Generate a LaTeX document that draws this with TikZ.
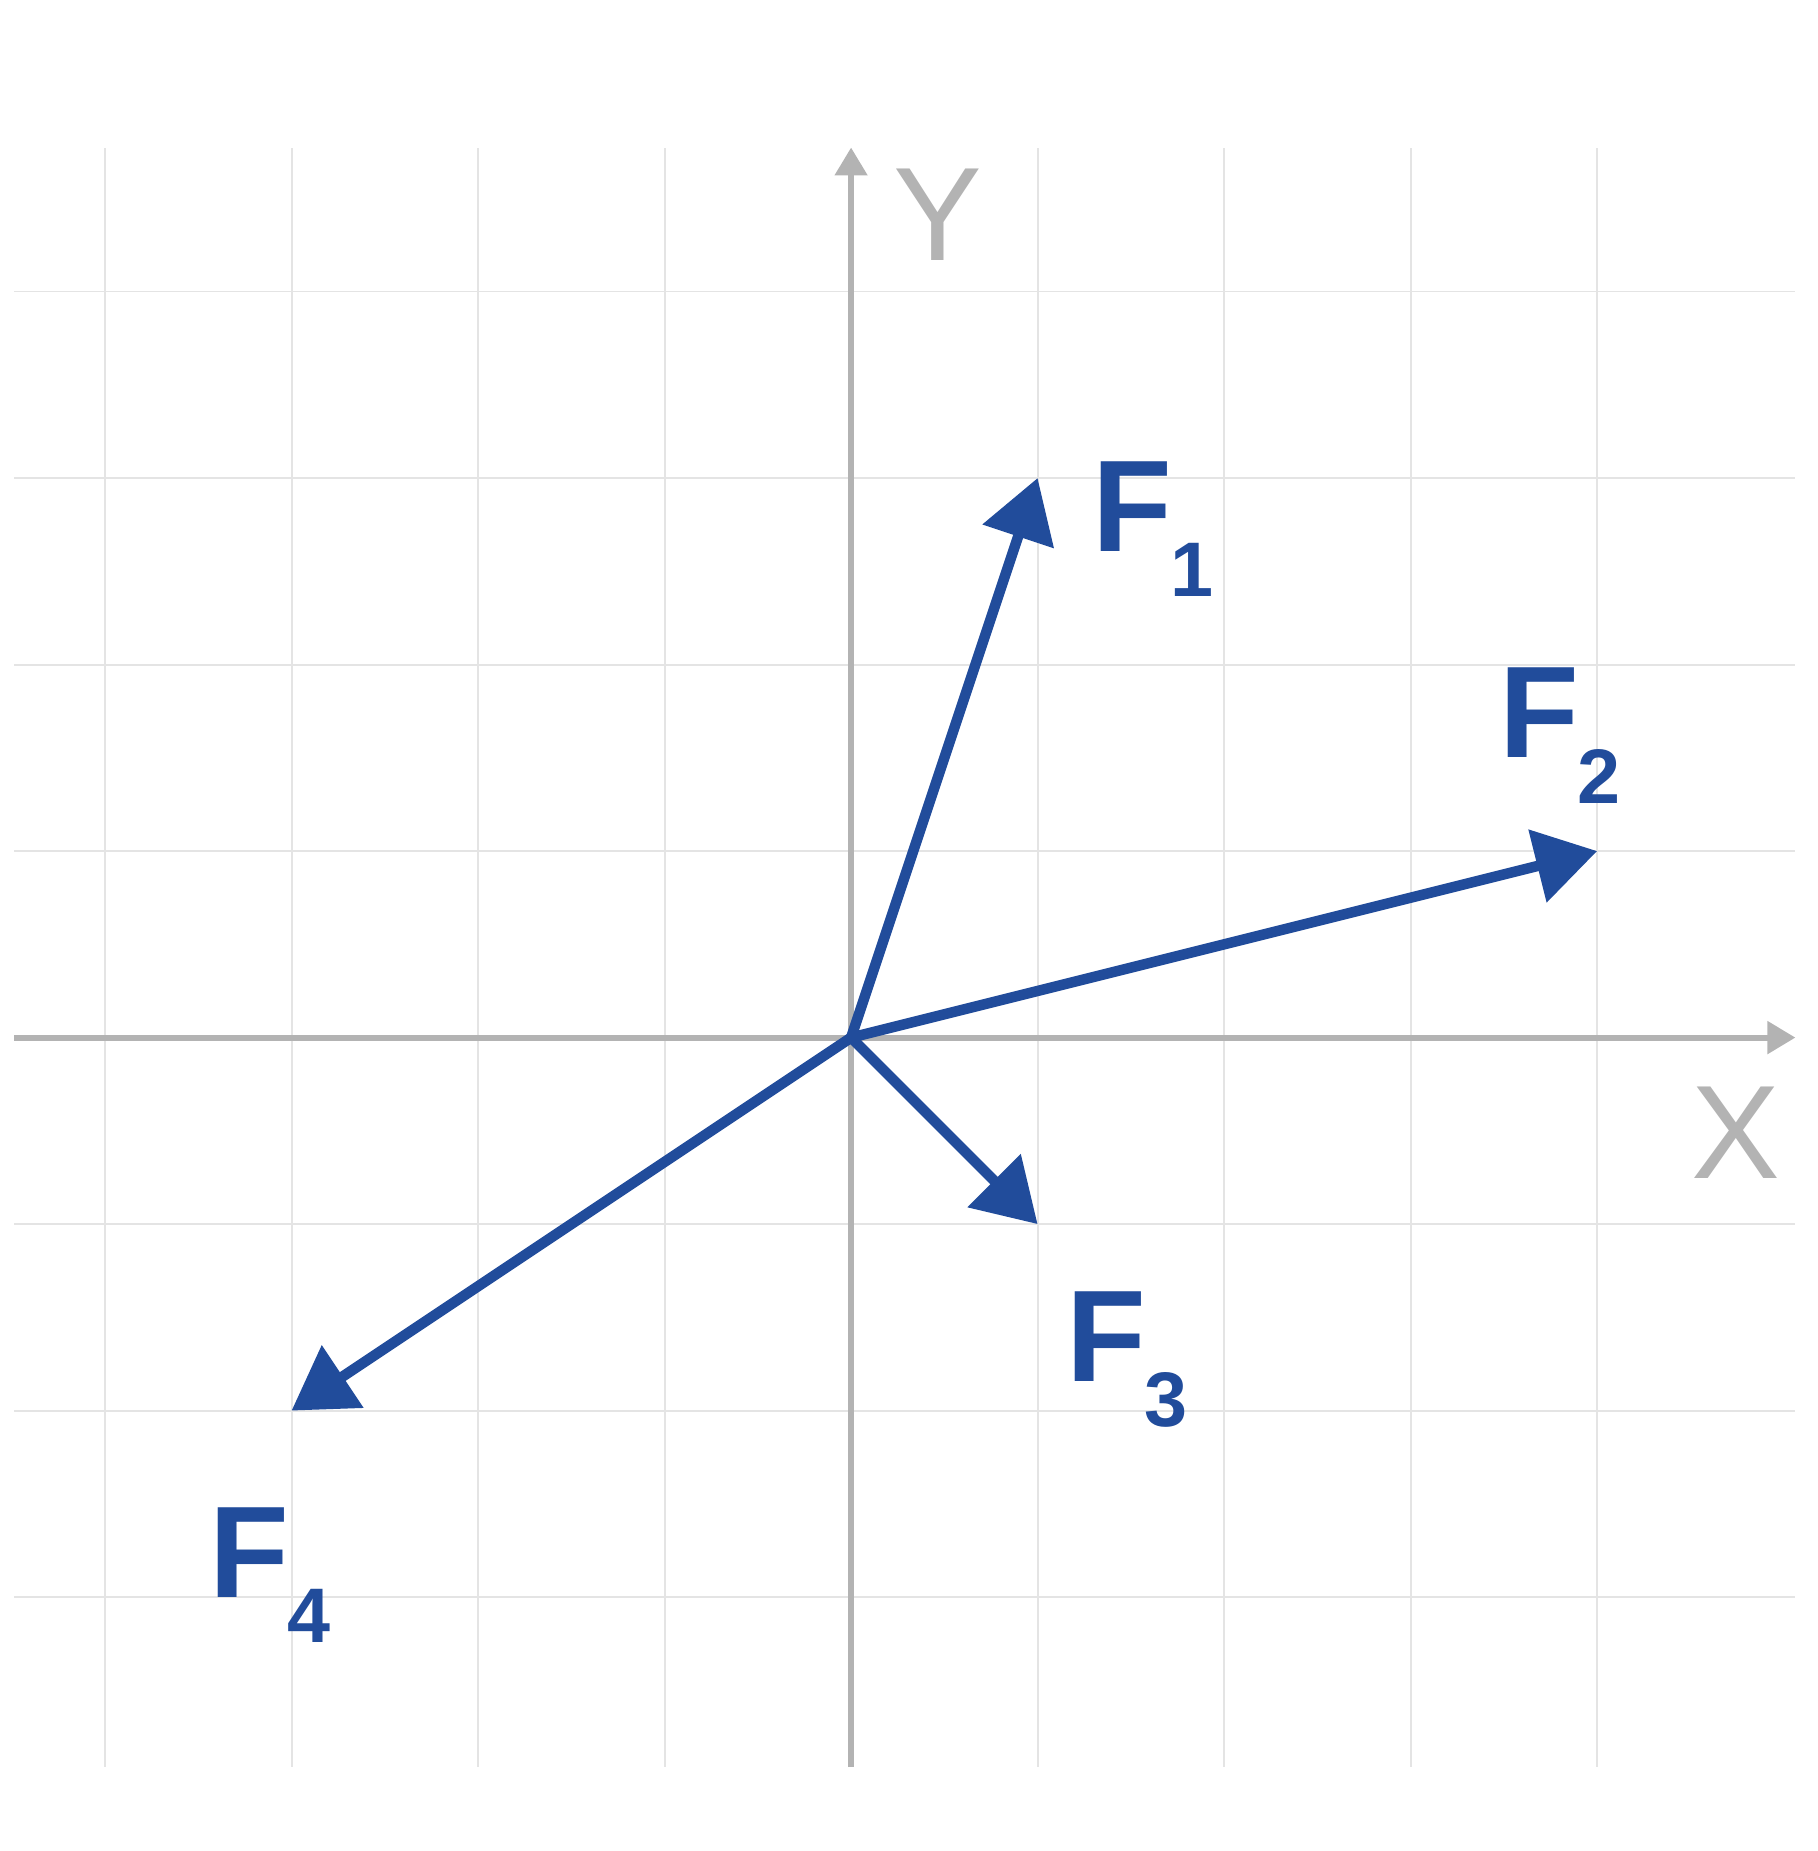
\documentclass[tikz,border=0pt]{standalone}
\usepackage{fontspec}
\setmainfont{Liberation Sans}
\usetikzlibrary{arrows.meta}
\definecolor{forceblue}{RGB}{33,76,155}
\definecolor{axisgray}{RGB}{179,179,179}
\definecolor{gridgray}{RGB}{228,228,228}
\tikzset{
  gridline/.style={draw=gridgray, line width=0.3pt},
  axisline/.style={draw=axisgray, line width=0.9pt, -{Triangle[length=0.15cm,width=0.17cm]}},
  force/.style={draw=forceblue, line width=1.6pt, line cap=round, -{Triangle[length=0.33cm,width=0.39cm]}},
  flabel/.style={anchor=base west, inner sep=0pt, outer sep=0pt, text=forceblue, font=\fontsize{19.9pt}{20pt}\selectfont\bfseries},
  axlabel/.style={anchor=base, inner sep=0pt, text=axisgray, font=\fontsize{20.3pt}{21pt}\selectfont}
}
\newcommand{\fsub}[1]{\kern-0.01cm\raisebox{-0.245cm}{\fontsize{11.8pt}{12pt}\selectfont\bfseries #1}}
\begin{document}
\begin{tikzpicture}
\useasboundingbox (-4.563,-4.361) rectangle (5.184,5.563);
% grid
\foreach \y in {-3,-2,-1,1,2,3,4} \draw[gridline] (-4.487,\y) -- (5.063,\y);
\foreach \x in {-4,-3,-2,-1,1,2,3,4} \draw[gridline] (\x,-3.911) -- (\x,4.772);
% axes
\coordinate (xl) at (-4.487,0);
\coordinate (xr) at (5.063,0);
\coordinate (yb) at (0,-3.911);
\coordinate (yt) at (0,4.772);
\draw[axisline] (xl) -- (xr);
\draw[axisline] (yb) -- (yt);
\node[axlabel] (X) at (4.744,-0.753) {X};
\node[axlabel] (Y) at (0.468,4.165) {Y};
% forces
\coordinate (O) at (0,0);
\coordinate (t1) at (1,3);
\coordinate (t2) at (4,1);
\coordinate (t3) at (1,-1);
\coordinate (t4) at (-3,-2);
\draw[force] (O) -- (t1);
\draw[force] (O) -- (t2);
\draw[force] (O) -- (t3);
\draw[force] (O) -- (t4);
\node[flabel] (F1) at (1.295,2.608) {F\fsub{1}};
\node[flabel] (F2) at (3.475,1.50) {F\fsub{2}};
\node[flabel] (F3) at (1.155,-1.842) {F\fsub{3}};
\node[flabel] (F4) at (-3.44,-3.0) {F\fsub{4}};
\end{tikzpicture}
\end{document}
